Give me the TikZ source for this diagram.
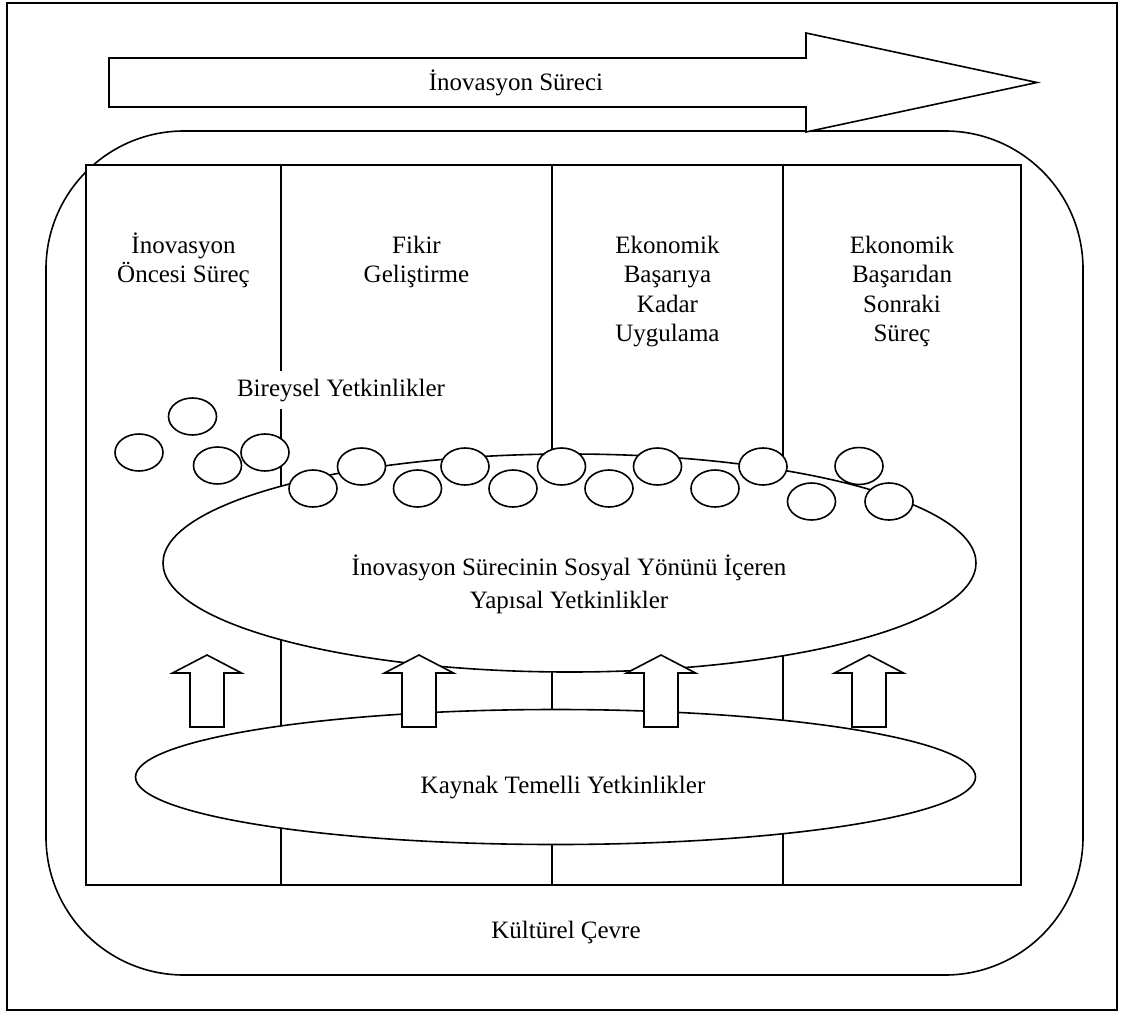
\documentclass[tikz,border=0pt]{standalone}
\usepackage{fontspec}
\setmainfont{Liberation Serif}
\usetikzlibrary{shapes.geometric}
\newcommand{\lblfont}{\fontsize{25}{29.5}\selectfont}
\newcommand{\widefont}{\fontsize{25}{33}\selectfont}
\newcommand{\lines}[1]{\begin{tabular}[t]{@{}c@{}}#1\end{tabular}}
\begin{document}
\begin{tikzpicture}[x=1pt,y=-1pt,line width=1.6pt,
  txt/.style={anchor=base,inner sep=0pt,font=\lblfont},
  blob/.style={ellipse,draw,fill=white,inner sep=0pt},
  bubble/.style={ellipse,draw,fill=white,inner sep=0pt,minimum width=48pt,minimum height=37pt},
  uparrow/.style={draw,fill=white}]
\useasboundingbox (0,0) rectangle (1121,1014);
% outer frame
\draw (7,3) rectangle (1117,1010);
% cultural environment
\draw[rounded corners=138pt] (46,131) rectangle (1083,975);
% process arrow
\draw[fill=white] (109,58) -- (806,58) -- (806,33) -- (1037,82.5) -- (806,132)
  -- (806,107) -- (109,107) -- cycle;
\node[txt] (process) at (516,91) {İnovasyon Süreci};
% phases
\draw[fill=white] (86,165) rectangle (1021,885);
\foreach \x in {281,552,783} \draw (\x,165) -- (\x,885);
\node[txt] (ph1) at (183.5,253) {\lines{İnovasyon\\Öncesi Süreç}};
\node[txt] (ph2) at (416.5,253) {\lines{Fikir\\Geliştirme}};
\node[txt] (ph3) at (667.5,253) {\lines{Ekonomik\\Başarıya\\Kadar\\Uygulama}};
\node[txt] (ph4) at (902,253) {\lines{Ekonomik\\Başarıdan\\Sonraki\\Süreç}};
\node[txt] (culture) at (566,938) {Kültürel Çevre};
% competence layers
\node[blob,minimum width=813pt,minimum height=218pt] (social) at (569.5,563) {};
\node[txt,font=\widefont] (socialtext) at (569,575)
  {\lines{İnovasyon Sürecinin Sosyal Yönünü İçeren\\Yapısal Yetkinlikler}};
\node[blob,minimum width=840pt,minimum height=135pt] (resource) at (555.5,777) {};
\node[txt] (resourcetext) at (563,793) {Kaynak Temelli Yetkinlikler};
% individual competences
\node[txt,fill=white,inner xsep=2pt,inner ysep=8pt] (indiv) at (341,396) {Bireysel Yetkinlikler};
\foreach \cx/\cy [count=\i] in {192.5/416.5,139/452.5,217.5/465.5,265/452.5,313/488.5,
    361.5/466.5,417.5/488.5,465/466.5,513/488.5,561.5/466.5,609/488.5,657.5/466.5,
    715/488.5,763/466.5,811.5/501.5,859/466,889/501.5}
  \node[bubble] (b\i) at (\cx,\cy) {};
% upward arrows
\foreach \ax in {207,419,661,869}
  \draw[uparrow] (\ax,655) -- (\ax+34.5,673) -- (\ax+17,673) -- (\ax+17,727)
    -- (\ax-17,727) -- (\ax-17,673) -- (\ax-34.5,673) -- cycle;
\end{tikzpicture}
\end{document}
